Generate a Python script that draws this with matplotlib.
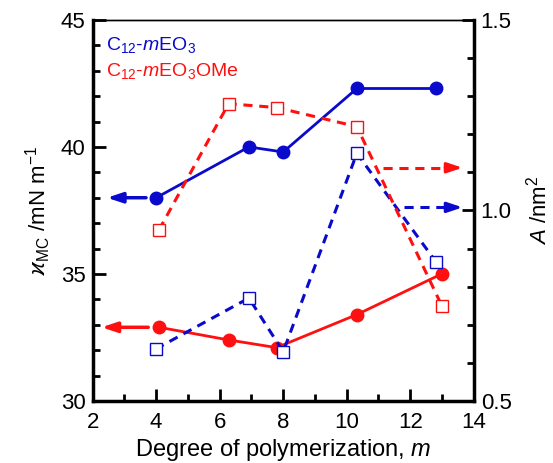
import matplotlib
matplotlib.use('Agg')
import matplotlib.pyplot as plt
from matplotlib.ticker import MultipleLocator, FormatStrFormatter

plt.rcParams['font.family'] = ['Liberation Sans', 'DejaVu Sans']
plt.rcParams['mathtext.fontset'] = 'custom'
plt.rcParams['mathtext.rm'] = 'Liberation Sans'
plt.rcParams['mathtext.it'] = 'Liberation Sans:italic'

# degree of polymerization m
m_eo3 = [4.0, 6.92, 8.0, 10.32, 12.8]
m_ome = [4.09, 6.29, 7.79, 10.32, 12.99]
m_eo3_A = [3.98, 6.92, 8.0, 10.32, 12.82]
m_ome_A = [4.09, 6.28, 7.8, 10.32, 13.0]

# surface tension at cmc (left axis)
gamma_eo3 = [38.0, 40.0, 39.8, 42.3, 42.3]
gamma_ome = [32.9, 32.4, 32.1, 33.4, 35.0]

# area per molecule (right axis)
A_eo3 = [0.636, 0.770, 0.629, 1.150, 0.864]
A_ome = [0.949, 1.280, 1.270, 1.220, 0.749]

blue = '#0a0acc'
red = '#ff1010'

fig = plt.figure(figsize=(5.53, 4.63), dpi=100)
ax = fig.add_axes([0.1676, 0.134, 0.689, 0.823])
ax2 = ax.twinx()

ax.plot(m_eo3, gamma_eo3, '-o', color=blue, lw=2, ms=9, zorder=3)
ax.plot(m_ome, gamma_ome, '-o', color=red, lw=2, ms=9, zorder=3)
ax2.plot(m_eo3_A, A_eo3, '--s', color=blue, lw=2.2, ms=8, mfc='white',
         mec=blue, mew=1, dashes=(3, 2.2))
ax2.plot(m_ome_A, A_ome, '--s', color=red, lw=2.2, ms=8, mfc='white',
         mec=red, mew=1, dashes=(3, 2.2))

# arrows pointing to the axis each series belongs to
head = '-|>,head_length=0.9,head_width=0.3'
ax.annotate('', xy=(2.45, 38.0), xytext=(3.68, 38.0),
            arrowprops=dict(arrowstyle=head, color=blue, lw=2.5, shrinkA=0, shrinkB=0))
ax.annotate('', xy=(2.28, 32.9), xytext=(3.75, 32.9),
            arrowprops=dict(arrowstyle=head, color=red, lw=2.5, shrinkA=0, shrinkB=0))
for x0, y, c in [(11.14, 1.112, red), (11.82, 1.008, blue)]:
    ax2.plot([x0, 13.2], [y, y], '--', color=c, lw=2.2, dashes=(3, 2.2))
    ax2.annotate('', xy=(13.65, y), xytext=(13.1, y),
                 arrowprops=dict(arrowstyle=head, color=c, lw=2.2, shrinkA=0, shrinkB=0))

ax.set_xlim(2, 14)
ax.set_ylim(30, 45)
ax2.set_ylim(0.5, 1.5)
ax.xaxis.set_major_locator(MultipleLocator(2))
ax.xaxis.set_minor_locator(MultipleLocator(1))
ax.yaxis.set_major_locator(MultipleLocator(5))
ax.yaxis.set_minor_locator(MultipleLocator(1))
ax2.yaxis.set_major_locator(MultipleLocator(0.5))
ax2.yaxis.set_minor_locator(MultipleLocator(0.1))
ax2.yaxis.set_major_formatter(FormatStrFormatter('%.1f'))

for a in (ax, ax2):
    a.tick_params(which='both', direction='in', width=2, labelsize=16)
    a.tick_params(which='major', length=9)
    a.tick_params(which='minor', length=5)
ax.tick_params(axis='x', pad=8)
ax.tick_params(axis='y', pad=5)
ax2.tick_params(axis='y', pad=5)

for s in ['left', 'bottom']:
    ax.spines[s].set_linewidth(2.5)
ax2.spines['right'].set_linewidth(2.5)
ax.spines['top'].set_linewidth(1)
ax2.spines['top'].set_linewidth(1)

ax.set_xlabel('Degree of polymerization, $m$', fontsize=17, labelpad=3)
ax.set_ylabel(r'$\varkappa_{\mathrm{MC}}$ /mN m$^{-1}$', fontsize=16, labelpad=6)
ax2.set_ylabel('$A$ /nm$^2$', fontsize=16, labelpad=10)

ax.text(0.035, 0.935, 'C$_{12}$-$m$EO$_3$', color=blue, fontsize=14,
        transform=ax.transAxes, va='center')
ax.text(0.035, 0.865, 'C$_{12}$-$m$EO$_3$OMe', color=red, fontsize=14,
        transform=ax.transAxes, va='center')

fig.savefig('out.png', dpi=100)
